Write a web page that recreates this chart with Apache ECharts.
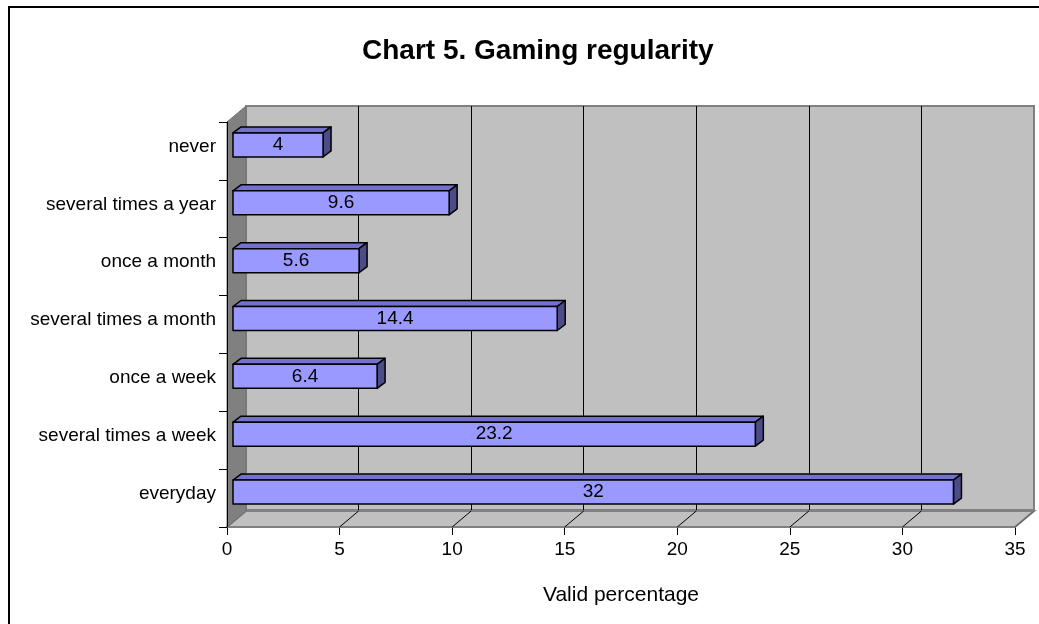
<!DOCTYPE html>
<html>
<head>
<meta charset="utf-8">
<script src="https://cdn.jsdelivr.net/npm/echarts@6/dist/echarts.min.js"></script>
<style>
    html, body { margin: 0; padding: 0; background: #fff; }
    #main { width: 1039px; height: 624px; }
</style>
</head>
<body>
<div id="main"></div>
<script>
// data, bottom to top like the category axis
var categories = ['everyday', 'several times a week', 'once a week', 'several times a month', 'once a month', 'several times a year', 'never'];
var values = [32, 23.2, 6.4, 14.4, 5.6, 9.6, 4];
var xTicks = [0, 5, 10, 15, 20, 25, 30, 35];

var FONT = '"Liberation Sans", Arial, sans-serif';
// fake 3d depth of the plot box and of one bar
var DX = 19, DY = -16;
var BAR_OFF_X = 6, BAR_OFF_Y = -6, BAR_H = 24, BAR_DX = 8, BAR_DY = -6;

var chart = echarts.init(document.getElementById('main'));

var barData = [];
for (var i = 0; i < values.length; i++) {
    barData.push([values[i], i]);
}

var renderWalls = function (params, api) {
    var cs = params.coordSys;
    var x = cs.x, y = cs.y, w = cs.width, h = cs.height;
    var children = [];
    // floor
    children.push({
        type: 'polygon',
        shape: { points: [[x, y + h], [x + w, y + h], [x + w + DX, y + h + DY], [x + DX, y + h + DY]] },
        style: { fill: '#c0c0c0', stroke: '#808080', lineWidth: 2 }
    });
    // left wall
    children.push({
        type: 'polygon',
        shape: { points: [[x, y], [x + DX, y + DY], [x + DX, y + h + DY], [x, y + h]] },
        style: { fill: '#808080', stroke: '#707070', lineWidth: 1 }
    });
    // diagonal lines across the floor
    for (var k = 1; k < xTicks.length; k++) {
        var px = api.coord([xTicks[k], 0])[0];
        children.push({
            type: 'line',
            shape: { x1: px, y1: y + h, x2: px + DX, y2: y + h + DY },
            style: { stroke: k == xTicks.length - 1 ? '#606060' : '#000', lineWidth: 1 }
        });
    }
    return { type: 'group', children: children };
}

var renderBar = function (params, api) {
    var start = api.coord([0, api.value(1)]);
    var end = api.coord([api.value(0), api.value(1)]);
    var x0 = start[0] + BAR_OFF_X;
    var x1 = end[0] + BAR_OFF_X;
    var top = start[1] + BAR_OFF_Y - BAR_H / 2;
    var bottom = top + BAR_H;
    var edge = { stroke: '#000', lineWidth: 1.5, lineJoin: 'round' };
    return {
        type: 'group',
        children: [
            {
                type: 'polygon',
                shape: { points: [[x0, top], [x1, top], [x1 + BAR_DX, top + BAR_DY], [x0 + BAR_DX, top + BAR_DY]] },
                style: Object.assign({ fill: '#7272cc' }, edge)
            },
            {
                type: 'polygon',
                shape: { points: [[x1, top], [x1 + BAR_DX, top + BAR_DY], [x1 + BAR_DX, bottom + BAR_DY], [x1, bottom]] },
                style: Object.assign({ fill: '#4c4c88' }, edge)
            },
            {
                type: 'rect',
                shape: { x: x0, y: top, width: x1 - x0, height: BAR_H },
                style: Object.assign({ fill: '#9999ff' }, edge)
            },
            {
                type: 'text',
                style: {
                    x: (x0 + x1) / 2, y: top + BAR_H / 2,
                    text: String(api.value(0)),
                    fill: '#000', font: '19px ' + FONT,
                    align: 'center', verticalAlign: 'middle'
                }
            }
        ]
    };
}

var option = {
    animation: false,
    backgroundColor: '#fff',
    title: {
        text: 'Chart 5. Gaming regularity',
        left: 357, top: 32,
        textStyle: { fontFamily: FONT, fontSize: 28, fontWeight: 'bold', color: '#000' }
    },
    graphic: [{
        type: 'rect',
        shape: { x: 9, y: 7, width: 1100, height: 700 },
        style: { fill: 'none', stroke: '#000', lineWidth: 2 },
        z: 100
    }],
    grid: [
        { left: 227, right: 24, top: 122, bottom: 97, show: false },
        // back wall
        { left: 246, right: 5, top: 106, bottom: 114, show: true, backgroundColor: '#c0c0c0', borderColor: '#808080', borderWidth: 2, z: 0 }
    ],
    xAxis: [
        {
            type: 'value', gridIndex: 0, min: 0, max: 35, interval: 5,
            axisLine: { show: true, lineStyle: { color: '#222', width: 1.5 } },
            axisTick: { show: true, length: 8, lineStyle: { color: '#000' } },
            axisLabel: { fontFamily: FONT, fontSize: 19, color: '#000', margin: 13 },
            splitLine: { show: false },
            name: 'Valid percentage', nameLocation: 'middle', nameGap: 58,
            nameTextStyle: { fontFamily: FONT, fontSize: 21, color: '#000' }
        },
        {
            type: 'value', gridIndex: 1, min: 0, max: 35, interval: 5,
            axisLine: { show: false }, axisTick: { show: false }, axisLabel: { show: false },
            splitLine: { show: true, lineStyle: { color: ['#808080', '#000', '#000', '#000', '#000', '#000', '#000', '#808080'], width: 1 } }
        }
    ],
    yAxis: [
        {
            type: 'category', gridIndex: 0, data: categories,
            axisLine: { show: true, lineStyle: { color: '#000', width: 1 } },
            axisTick: { show: true, length: 8, lineStyle: { color: '#000' } },
            axisLabel: {
                margin: 11,
                formatter: function (v) { return '{c|' + v + '}'; },
                rich: {
                    c: { fontFamily: FONT, fontSize: 19, color: '#000', padding: [0, 0, 9, 0] }
                }
            },
            splitLine: { show: false }, z: 5
        },
        {
            type: 'value', gridIndex: 1, min: 0, max: 1, show: false
        }
    ],
    series: [
        {
            type: 'line', xAxisIndex: 1, yAxisIndex: 1, data: [], silent: true
        },
        {
            type: 'custom', xAxisIndex: 0, yAxisIndex: 0, z: 1,
            data: [[0, 0]], renderItem: renderWalls, silent: true
        },
        {
            type: 'custom', xAxisIndex: 0, yAxisIndex: 0, z: 3,
            data: barData, renderItem: renderBar,
            encode: { x: 0, y: 1 }
        }
    ]
};

chart.setOption(option);
</script>
</body>
</html>
